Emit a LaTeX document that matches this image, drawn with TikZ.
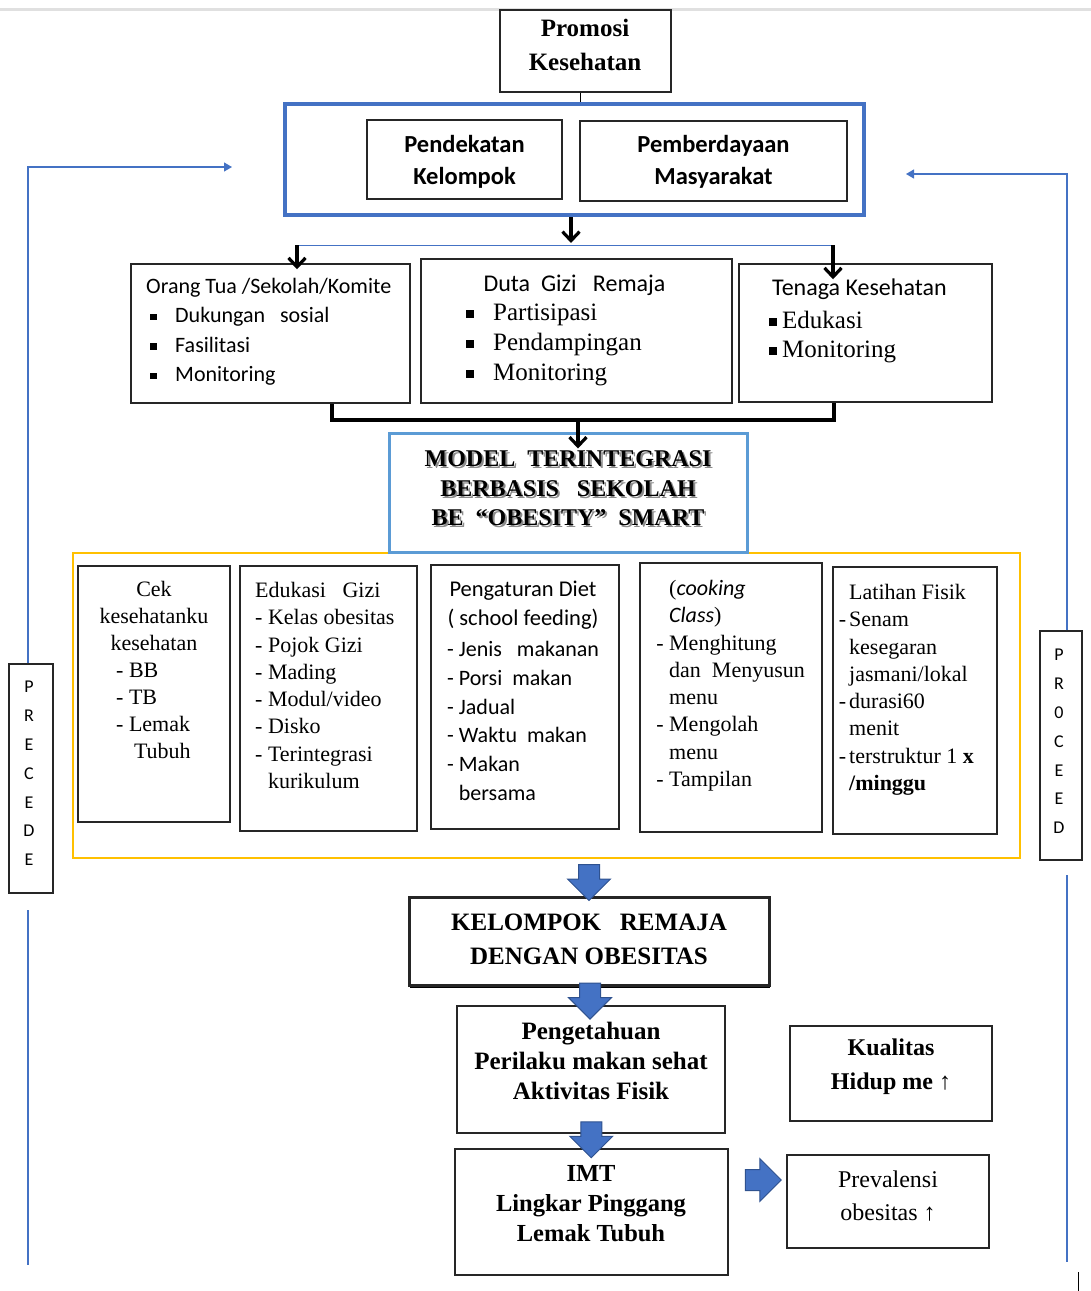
\documentclass[tikz,border=0pt]{standalone}
\usepackage{fontspec}
\setmainfont{Liberation Serif}
\newfontfamily\calfont{Carlito}
\usetikzlibrary{shapes,arrows.meta,calc,shadows}
\definecolor{wdBlue}{RGB}{68,114,196}
\definecolor{wdLightBlue}{RGB}{91,155,213}
\definecolor{wdOrange}{RGB}{255,192,0}
\definecolor{wdDarkBlue}{RGB}{47,82,143}
\newcommand{\sqb}{\rule[0.12em]{0.3em}{0.3em}}
\newcommand{\fs}[2]{\fontsize{#1}{#2}\selectfont}

\begin{document}
\begin{tikzpicture}[x=1pt, y=-1pt]
  \tikzset{box/.style={draw=black!85, line width=1.5pt, inner sep=0pt},
    txt/.style={inner sep=0pt, align=left, anchor=north west},
    ctxt/.style={inner sep=0pt, align=center},
    blackarrow/.style={draw, line width=3.2pt, -{Straight Barb[length=9pt,width=17pt]}},
    sideline/.style={draw=wdBlue, line width=1.2pt},
    blockarrow/.style={single arrow, draw=wdDarkBlue, fill=wdBlue, line width=1pt, inner sep=10pt,
      minimum height=36pt, minimum width=42pt, single arrow head extend=11pt}}
  \useasboundingbox (0,0) rectangle (1091,1291);
  \draw[black!12, line width=3pt] (0,9) -- (1091,9);

  % top
  \node[box, minimum width=171pt, minimum height=82pt] (promo) at (585.5,51) {};
  \node[ctxt, font=\bfseries\fs{25}{34}] (promoT) at (585,45) {Promosi\\Kesehatan};
  \node[box, draw=wdBlue, line width=4pt, minimum width=579pt, minimum height=111pt] (pendF) at (574.5,159.5) {};
  \node[box, minimum width=195pt, minimum height=79pt] (pend) at (464.5,159.5) {};
  \node[box, minimum width=267pt, minimum height=80pt] (pemb) at (713.5,161) {};
  \node[ctxt, font=\calfont\bfseries\fs{24.5}{32}] (pendT) at (464.5,162) {Pendekatan\\Kelompok};
  \node[ctxt, font=\calfont\bfseries\fs{24.5}{32}] (pembT) at (713.5,162) {Pemberdayaan\\Masyarakat};
  \draw[line width=0.8pt] ([xshift=-5.5pt]promo.south) -- ([xshift=-5.5pt]promo.south |- pendF.north);

  % actors
  \node[box, minimum width=279pt, minimum height=139pt] (orang) at (270.5,333.5) {};
  \node[box, minimum width=311pt, minimum height=144pt] (duta) at (576.5,331) {};
  \node[box, minimum width=253pt, minimum height=138pt] (tenaga) at (865.5,333) {};
  \node[txt, font=\calfont\fs{22}{29.5}] (orangT) at (146,278) {Orang Tua /Sekolah/Komite\\
    \makebox[29pt][l]{\hspace*{4pt}\sqb}Dukungan\ \ \ sosial\\
    \makebox[29pt][l]{\hspace*{4pt}\sqb}Fasilitasi\\
    \makebox[29pt][l]{\hspace*{4pt}\sqb}Monitoring};
  \node[ctxt, font=\calfont\fs{24}{29}] (dutaT) at (574.5,285) {Duta\ \ Gizi\ \ \ Remaja};
  \node[txt, font=\fs{25}{30}] (dutaL) at (466,304) {\makebox[27pt][l]{\sqb}Partisipasi\\
    \makebox[27pt][l]{\sqb}Pendampingan\\
    \makebox[27pt][l]{\sqb}Monitoring};
  \node[txt, font=\calfont\fs{24}{29}] (tenagaT) at (772,279) {Tenaga Kesehatan};
  \node[txt, font=\fs{25}{29}] (tenagaL) at (769,311) {\makebox[13pt][l]{\sqb}Edukasi\\
    \makebox[13pt][l]{\sqb}Monitoring};

  \coordinate (split) at (571,245);
  \coordinate (splitL) at (297,245);
  \coordinate (splitR) at (833,245);
  \draw[blackarrow] (pendF.south -| split) -- ([yshift=2pt]split);
  \draw[sideline, line width=1pt] (splitL) -- (splitR);
  \draw[blackarrow] (splitL) -- ([yshift=-6pt]splitL |- orang.north);
  \draw[blackarrow] (splitR) -- ([yshift=-16pt]splitR |- tenaga.north);

  \coordinate (bl) at (332,420);
  \coordinate (br) at (834,420);
  \coordinate (bm) at (578,420);
  \draw[line width=3.8pt] (orang.south -| bl) -- (bl) -- (br) -- (tenaga.south -| br);

  % model
  \node[box, draw=wdOrange, line width=2pt, minimum width=947pt, minimum height=305pt] (frame) at (546.5,705.5) {};
  \node[box, draw=wdLightBlue, line width=3pt, fill=white, minimum width=358pt, minimum height=119pt] (model) at (568,492.5) {};
  \node[ctxt, font=\bfseries\fs{24}{29.5}, text=black!45] (modelS) at (570,490.5)
    {MODEL\ \ TERINTEGRASI\\BERBASIS\ \ \ SEKOLAH\\BE\ \ “OBESITY”\ \ SMART};
  \node[ctxt, font=\bfseries\fs{24}{29.5}] (modelT) at (568,488.5)
    {MODEL\ \ TERINTEGRASI\\BERBASIS\ \ \ SEKOLAH\\BE\ \ “OBESITY”\ \ SMART};
  \draw[blackarrow] (bm) -- ([yshift=-17pt]bm |- model.north);

  % activities
  \node[box, minimum width=152pt, minimum height=256pt] (cek) at (154,694) {};
  \node[box, minimum width=177pt, minimum height=265pt] (edu) at (328.5,698.5) {};
  \node[box, minimum width=188pt, minimum height=264pt] (diet) at (525,697) {};
  \node[box, minimum width=182pt, minimum height=269pt] (cook) at (731,697.5) {};
  \node[box, minimum width=164pt, minimum height=267pt] (lat) at (915,700.5) {};
  \node[ctxt, font=\fs{22}{27}] (cekT) at (154,616) {Cek\\kesehatanku\\kesehatan};
  \node[txt, font=\fs{22}{27}] (cekL) at (116,663) {- BB\\- TB\\- Lemak\\\hphantom{- }\hspace*{5pt}Tubuh};
  \node[txt, font=\fs{22}{27.3}] (eduT) at (255,582) {Edukasi\ \ \ Gizi\\- Kelas obesitas\\- Pojok Gizi\\- Mading\\
    - Modul/video\\- Disko\\- Terintegrasi\\\hphantom{- }kurikulum};
  \node[ctxt, font=\calfont\fs{22.5}{29}] (dietT) at (523,605.5) {Pengaturan Diet\\( school feeding)};
  \node[txt, font=\calfont\fs{22}{28.8}] (dietL) at (447,641) {- Jenis\ \ \ makanan\\- Porsi\ \ makan\\- Jadual\\
    - Waktu\ \ makan\\- Makan\\\hphantom{- }bersama};
  \node[txt, font=\fs{22}{27.3}] (cookT) at (669,580) {({\calfont\itshape cooking}\\{\calfont\itshape Class})\\
    \llap{- }Menghitung\\dan\ \ Menyusun\\menu\\\llap{- }Mengolah\\menu\\\llap{- }Tampilan};
  \node[txt, font=\fs{22}{27.3}] (latT) at (849,584) {Latihan Fisik\\\llap{-\hspace{3pt}}Senam\\kesegaran\\jasmani/lokal\\
    \llap{-\hspace{3pt}}durasi60\\menit\\\llap{-\hspace{3pt}}terstruktur 1 \textbf{x}\\\textbf{/minggu}};

  % precede / proceed
  \node[box, minimum width=44pt, minimum height=229pt] (prec) at (31,778.5) {};
  \node[ctxt, font=\calfont\fs{18}{28.8}] (precT) at (29,773.5) {P\\R\\E\\C\\E\\D\\E};
  \node[box, minimum width=42pt, minimum height=229pt] (proc) at (1061,745.5) {};
  \node[ctxt, font=\calfont\fs{18}{28.8}] (procT) at (1059,741.5) {P\\R\\0\\C\\E\\E\\D};
  \coordinate (lTop) at (28,167);
  \coordinate (lIn) at (232,167);
  \coordinate (rTop) at (1067,174);
  \coordinate (rIn) at (906,174);
  \draw[sideline, -{Triangle[length=8pt,width=9pt]}] (prec.north -| lTop) -- (lTop) -- (lIn);
  \draw[sideline, -{Triangle[length=8pt,width=9pt]}] (proc.north -| rTop) -- (rTop) -- (rIn);
  \draw[sideline] (28,910) -- (28,1265);
  \draw[sideline] (1067,875) -- (1067,1262);

  % outcomes
  \node[box, line width=3pt, drop shadow={shadow xshift=1pt, shadow yshift=-3pt, fill=black, opacity=1},
    fill=white, minimum width=360pt, minimum height=88pt] (kel) at (589,941) {};
  \node[ctxt, font=\bfseries\fs{25}{34}] (kelT) at (589,939) {KELOMPOK\ \ \ REMAJA\\DENGAN\ OBESITAS};
  \node[box, minimum width=268pt, minimum height=127pt] (peng) at (591,1069.5) {};
  \node[ctxt, font=\bfseries\fs{25}{30}] (pengT) at (591,1061) {Pengetahuan\\Perilaku makan sehat\\Aktivitas Fisik};
  \node[box, minimum width=273pt, minimum height=126pt] (imt) at (591.5,1212) {};
  \node[ctxt, font=\bfseries\fs{24.5}{30}] (imtT) at (591,1204) {IMT\\Lingkar Pinggang\\Lemak Tubuh};
  \node[box, minimum width=202pt, minimum height=95pt] (kual) at (891,1073.5) {};
  \node[ctxt, font=\bfseries\fs{24}{34}] (kualT) at (891,1067) {Kualitas\\Hidup me {\mdseries ↑}};
  \node[box, minimum width=202pt, minimum height=93pt] (prev) at (888,1201.5) {};
  \node[ctxt, font=\fs{24}{33}] (prevT) at (888,1196.5) {Prevalensi\\obesitas ↑};

  \node[blockarrow, shape border rotate=270] (a1) at ($(kel.north)!0.5!(kel.north |- frame.south)$) {};
  \node[blockarrow, shape border rotate=270] (a2) at ($(kel.south)!0.5!(peng.north)$) {};
  \node[blockarrow, shape border rotate=270, yshift=6.5pt] (a3) at ($(peng.south)!0.5!(imt.north)$) {};
  \node[blockarrow] (a4) at (758,1180) {};

  \draw[line width=1pt] (1078,1272) -- (1078,1291);
\end{tikzpicture}
\end{document}
